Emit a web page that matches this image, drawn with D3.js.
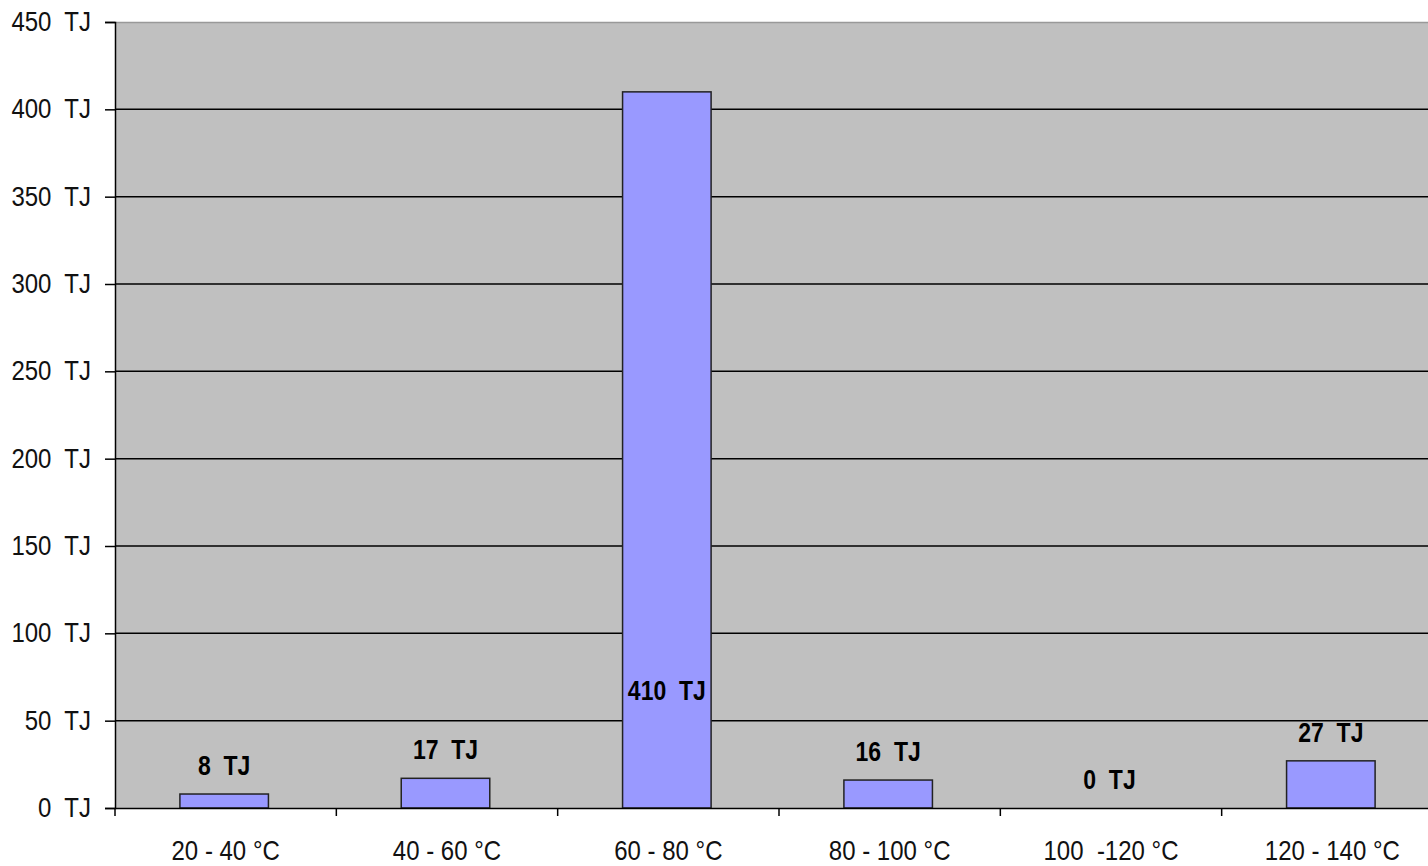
<!DOCTYPE html>
<html>
<head>
<meta charset="utf-8">
<script src="https://cdn.jsdelivr.net/npm/d3@7"></script>
<style>
  html, body { margin: 0; padding: 0; background: #fff; overflow: hidden; }
  text { font-family: "Liberation Sans", Arial, sans-serif; white-space: pre; }
</style>
</head>
<body>
<svg id="chart" width="1428" height="866"></svg>
<script>
// Heat demand by temperature range
const categories = ["20 - 40 °C", "40 - 60 °C", "60 - 80 °C", "80 - 100 °C", "100  -120 °C", "120 - 140 °C"];
const values = [8, 17, 410, 16, 0, 27];
const yTicks = [0, 50, 100, 150, 200, 250, 300, 350, 400, 450];
const unit = "TJ";

const svg = d3.select("#chart");
const margin = { left: 115, top: 22, bottom: 58 };
const H = 866;
const plotRight = 1443;           // last band runs slightly past the window edge
const plotBottom = H - margin.bottom;

const x = d3.scaleBand().domain(categories).range([margin.left, plotRight]).padding(0);
const y = d3.scaleLinear().domain([0, 450]).range([plotBottom, margin.top]);

const sy = 1.17; // tall, narrow lettering

// plot background
svg.append("rect")
  .attr("x", margin.left).attr("y", margin.top)
  .attr("width", plotRight - margin.left).attr("height", plotBottom - margin.top)
  .attr("fill", "#c0c0c0");
svg.append("line")
  .attr("x1", margin.left).attr("x2", plotRight)
  .attr("y1", margin.top + 0.5).attr("y2", margin.top + 0.5)
  .attr("stroke", "#999").attr("stroke-width", 1.5);

// horizontal gridlines
svg.append("g").selectAll("line")
  .data(yTicks.filter(t => t > 0 && t < 450))
  .join("line")
  .attr("x1", margin.left).attr("x2", plotRight)
  .attr("y1", d => y(d)).attr("y2", d => y(d))
  .attr("stroke", "#000").attr("stroke-width", 1.5);

// bars
const barW = x.bandwidth() * 0.4;
svg.append("g").selectAll("rect")
  .data(values)
  .join("rect")
  .attr("x", (d, i) => x(categories[i]) + x.bandwidth() / 2 - barW / 2 - 1.5)
  .attr("y", d => y(d))
  .attr("width", barW)
  .attr("height", d => plotBottom - y(d))
  .attr("fill", "#9999ff")
  .attr("stroke", d => d > 0 ? "#222" : "none")
  .attr("stroke-width", 1.5);

// y axis
const yAxis = svg.append("g").attr("transform", `translate(${margin.left},0)`)
  .call(d3.axisLeft(y).tickValues(yTicks).tickSize(10).tickFormat(""));
yAxis.select(".domain").attr("stroke", "#000").attr("stroke-width", 1.5);
yAxis.selectAll(".tick line").attr("stroke", "#000").attr("stroke-width", 1.5);
yAxis.selectAll(".tick").each(function (d) {
  d3.select(this).append("text")
    .attr("text-anchor", "end").attr("fill", "#111")
    .attr("font-size", 24).attr("dy", "0.3em")
    .attr("transform", `translate(-24,0) scale(1,${sy})`)
    .text(`${d}  ${unit}`);
});

// x axis
const xAxis = svg.append("g").attr("transform", `translate(0,${plotBottom})`)
  .call(d3.axisBottom(x).tickValues([]).tickSizeOuter(0));
xAxis.select(".domain").attr("stroke", "#000").attr("stroke-width", 1.5);
xAxis.append("g").selectAll("line")
  .data(categories.map(c => x(c)))
  .join("line")
  .attr("x1", d => d).attr("x2", d => d)
  .attr("y1", 0).attr("y2", 8)
  .attr("stroke", "#000").attr("stroke-width", 1.5);
xAxis.append("g").selectAll("text")
  .data(categories)
  .join("text")
  .attr("text-anchor", "middle").attr("fill", "#111")
  .attr("font-size", 24)
  .attr("transform", d => `translate(${x(d) + x.bandwidth() / 2},52) scale(1,${sy})`)
  .text(d => d);

// value labels; a label for a bar that fills the plot sits low inside it
svg.append("g").selectAll("text")
  .data(values)
  .join("text")
  .attr("text-anchor", "middle").attr("fill", "#000")
  .attr("font-size", 23).attr("font-weight", "bold")
  .attr("transform", (d, i) => {
    const cx = x(categories[i]) + x.bandwidth() / 2 - 1.5;
    const cy = d > 300 ? y(62) : y(d) - 19;
    return `translate(${cx},${cy}) scale(1,${sy})`;
  })
  .text(d => `${d}  ${unit}`);
</script>
</body>
</html>
